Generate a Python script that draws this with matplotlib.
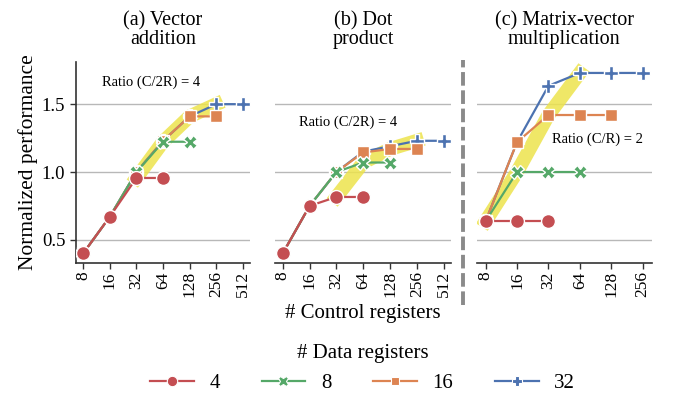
import matplotlib
matplotlib.use("Agg")
import matplotlib.pyplot as plt
from matplotlib.lines import Line2D

plt.rcParams["font.family"] = ["Liberation Serif", "DejaVu Serif"]
plt.rcParams["mathtext.fontset"] = "stix"

# Data
titles = ["(a) Vector\naddition", "(b) Dot\nproduct", "(c) Matrix-vector\nmultiplication"]
ticks_ab = ["8", "16", "32", "64", "128", "256", "512"]
ticks_c = ["8", "16", "32", "64", "128", "256"]
data_regs = ["4", "8", "16", "32"]

# values per data-register series, indexed along the control-register ticks
vec_add = {
    "4": [0.40, 0.67, 0.956, 0.956],
    "8": [0.40, 0.67, 1.00, 1.223, 1.223],
    "16": [0.40, 0.67, 1.00, 1.23, 1.41, 1.41],
    "32": [0.40, 0.67, 1.00, 1.23, 1.41, 1.50, 1.50],
}
dot_prod = {
    "4": [0.40, 0.75, 0.816, 0.816],
    "8": [0.40, 0.75, 1.00, 1.07, 1.07],
    "16": [0.40, 0.75, 1.00, 1.144, 1.17, 1.17],
    "32": [0.40, 0.75, 1.00, 1.15, 1.19, 1.23, 1.23],
}
mat_vec = {
    "4": [0.637, 0.637, 0.637],
    "8": [0.637, 1.00, 1.00, 1.00],
    "16": [0.637, 1.22, 1.42, 1.42, 1.42],
    "32": [0.637, 1.22, 1.635, 1.73, 1.73, 1.73],
}
# highlighted points (tick index, value) for the ratio band
band_a = ([2, 3, 4, 5], [0.956, 1.223, 1.41, 1.50])
band_b = ([2, 3, 4, 5], [0.816, 1.07, 1.17, 1.23])
band_c = ([0, 1, 2, 3], [0.637, 1.00, 1.42, 1.73])
ratio_text = ["Ratio (C/2R) = 4", "Ratio (C/2R) = 4", "Ratio (C/R) = 2"]

colors = {"4": "#c44e52", "8": "#55a868", "16": "#dd8452", "32": "#4c72b0"}
markers = {"4": "o", "8": "X", "16": "s", "32": "P"}
msizes = {"4": 10, "8": 10, "16": 8, "32": 10.5}

fig = plt.figure(figsize=(6.88, 3.93), dpi=100)
lefts = [0.110, 0.400, 0.693]
widths = [0.254, 0.256, 0.254]
bottom, height = 0.331, 0.511

panels = [(vec_add, ticks_ab, band_a), (dot_prod, ticks_ab, band_b), (mat_vec, ticks_c, band_c)]
text_pos = [(2.55, 1.66, "center"), (2.43, 1.365, "center"), (2.1, 1.24, "left")]

for i, (series, ticks, band) in enumerate(panels):
    ax = fig.add_axes([lefts[i], bottom, widths[i], height])
    n = len(ticks)
    ax.set_xlim(-0.28, n - 1 + 0.28)
    ax.set_ylim(0.33, 1.81)
    ax.set_yticks([0.5, 1.0, 1.5])
    for y in [0.5, 1.0, 1.5]:
        ax.axhline(y, color="#b8b8b8", lw=1.0, zorder=0)
    ax.set_xticks(range(n))
    ax.set_xticklabels(ticks, rotation=90, fontsize=12.5)
    ax.tick_params(axis="x", length=4, width=1, color="#333333", pad=2)
    for s in ["top", "right"]:
        ax.spines[s].set_visible(False)
    ax.spines["bottom"].set_color("#333333")
    ax.spines["bottom"].set_linewidth(1.2)
    if i == 0:
        ax.spines["left"].set_color("#333333")
        ax.spines["left"].set_linewidth(1.2)
        ax.tick_params(axis="y", labelsize=13.5, length=4, width=1, color="#333333")
        ax.set_ylabel("Normalized performance", fontsize=15.5, labelpad=3)
    else:
        ax.spines["left"].set_visible(False)
        ax.tick_params(axis="y", left=False, labelleft=False)

    # yellow band
    ax.plot(band[0], band[1], color="#ede34c", alpha=0.85, lw=10,
            solid_capstyle="projecting", solid_joinstyle="miter", zorder=1)

    for z, key in enumerate(reversed(data_regs)):
        vals = series[key]
        ax.plot(range(len(vals)), vals, color=colors[key], lw=1.6,
                marker=markers[key], markersize=msizes[key],
                markeredgecolor="white", markeredgewidth=1.0, zorder=2 + z)

    tx, ty, ha = text_pos[i]
    ax.text(tx, ty, ratio_text[i], fontsize=10.5, ha=ha, va="center", zorder=10)
    ax.set_title(titles[i], fontsize=14.5, pad=13, linespacing=1.0)

# separator between (b) and (c)
fig.add_artist(Line2D([0.673, 0.673], [0.224, 0.847], transform=fig.transFigure,
                      color="#8a8a8a", lw=2.8, linestyle=(0, (3.5, 1.2))))

fig.text(0.527, 0.203, "# Control registers", ha="center", va="center", fontsize=15)

handles = [Line2D([], [], color=colors[k], lw=1.6, marker=markers[k],
                  markersize=msizes[k] * 0.75, markeredgecolor="white",
                  markeredgewidth=0.8) for k in data_regs]
leg = fig.legend(handles, data_regs, loc="lower center", bbox_to_anchor=(0.527, -0.048),
                 ncol=4, frameon=False, fontsize=15, title="# Data registers",
                 title_fontsize=15, handlelength=2.1, columnspacing=2.0, handletextpad=0.75)

fig.savefig("out.png", dpi=100)
